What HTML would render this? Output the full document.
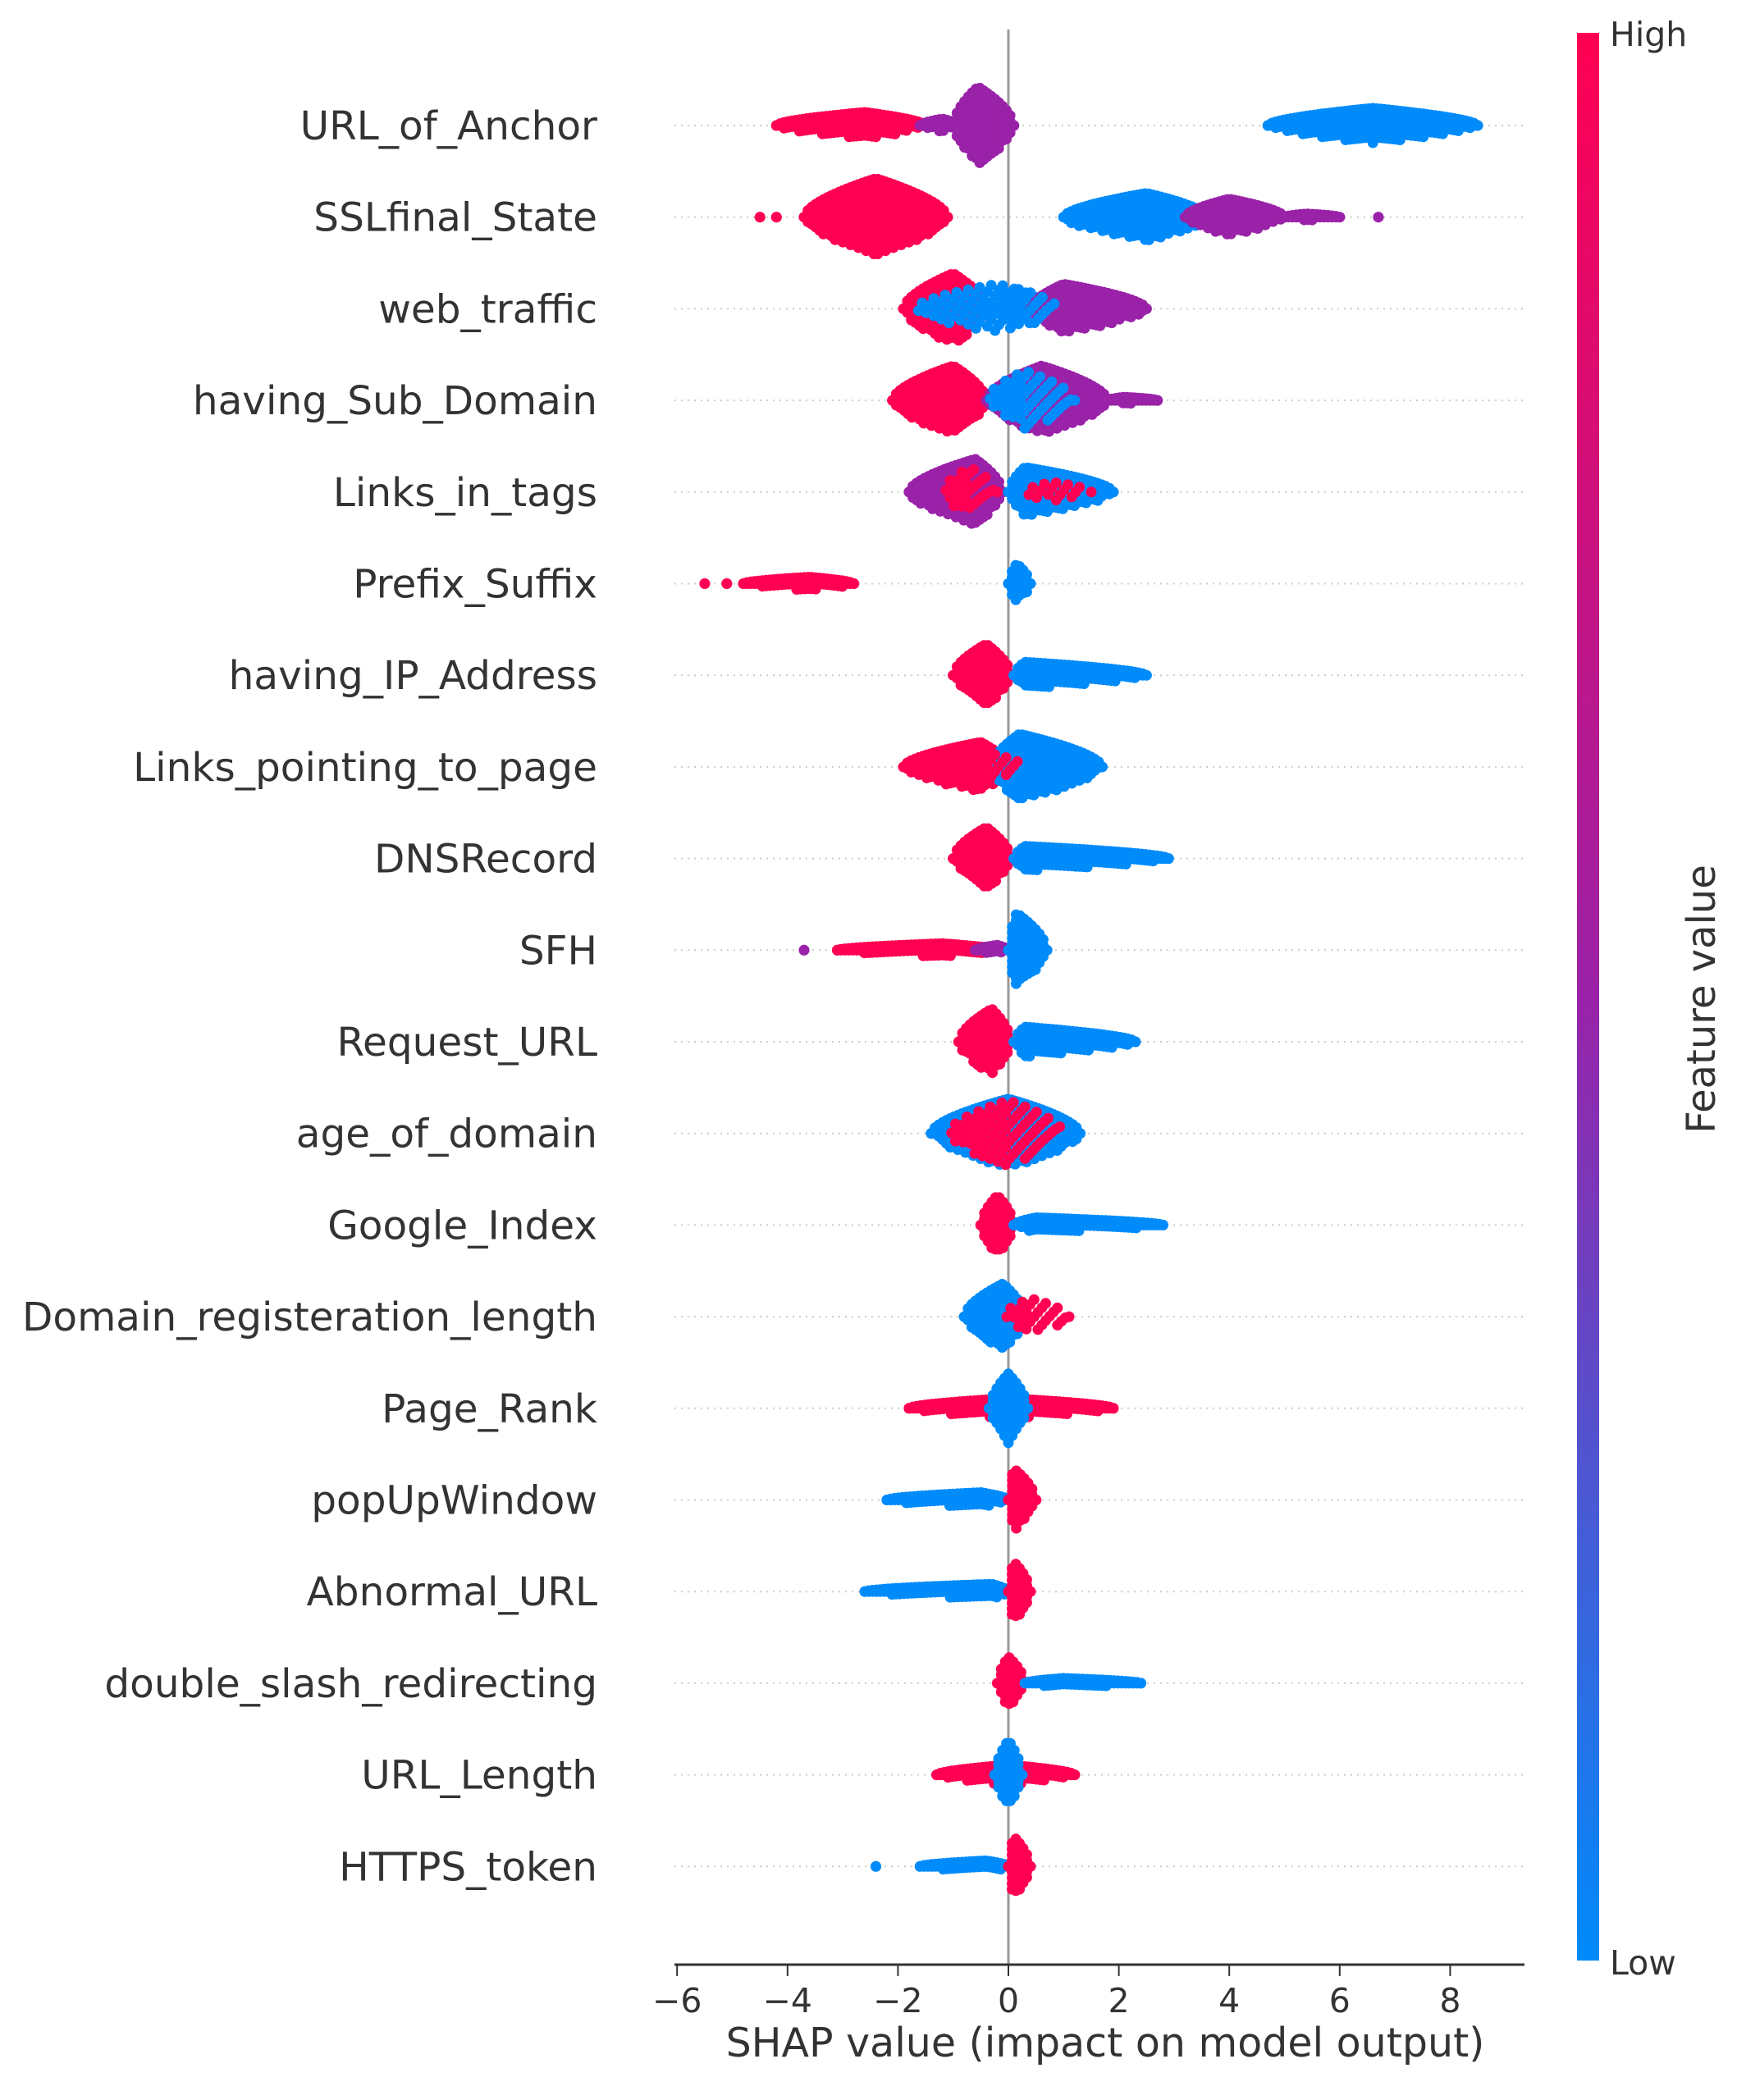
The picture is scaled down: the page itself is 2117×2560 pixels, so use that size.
<!DOCTYPE html>
<html><head><meta charset="utf-8"><style>
html,body{margin:0;padding:0;background:#fff;}
svg text{font-family:"DejaVu Sans","Liberation Sans",sans-serif;fill:#333;}
</style></head><body>
<svg id="chart" width="2117" height="2555" viewBox="0 0 2117 2555" xmlns="http://www.w3.org/2000/svg">
<defs><linearGradient id="cb" x1="0" y1="1" x2="0" y2="0">
<stop offset="0" stop-color="#008bfb"/><stop offset="0.5" stop-color="#9a22a8"/><stop offset="1" stop-color="#ff0052"/></linearGradient></defs>
<g id="grid"></g>
<g id="dots"></g>
<g id="labels"></g>
<g id="xaxis"></g>
<rect x="1922" y="40" width="27" height="2350" fill="url(#cb)"/>
<text x="1962" y="56" font-size="41">High</text>
<text x="1962" y="2407" font-size="41">Low</text>
<text transform="translate(2090,1218) rotate(-90)" text-anchor="middle" font-size="48">Feature value</text>
</svg>
<script>
const features = ["URL_of_Anchor","SSLfinal_State","web_traffic","having_Sub_Domain","Links_in_tags","Prefix_Suffix","having_IP_Address","Links_pointing_to_page","DNSRecord","SFH","Request_URL","age_of_domain","Google_Index","Domain_registeration_length","Page_Rank","popUpWindow","Abnormal_URL","double_slash_redirecting","URL_Length","HTTPS_token"];
// segments per feature: [x0, x1, peak, halfHeightPx, featureValue(0=low,1=high), sparse(0/1)]
const segments = [
 [[-4.2,-1.5,-2.6,16,1,0],[-1.6,-0.9,-1.2,8,0.5,0],[-1.0,0.1,-0.55,47,0.5,0],[4.7,8.5,6.6,21,0,0]],
 [[-4.5,-4.5,-4.5,0,1,0],[-4.2,-4.2,-4.2,0,1,0],[-3.7,-1.1,-2.4,47,1,0],[1.0,3.6,2.5,29,0,0],[3.2,5.0,4.0,22,0.5,0],[5.0,6.0,5.4,4,0.5,0],[6.7,6.7,6.7,0,0.5,0]],
 [[-1.9,-0.4,-1.0,43,1,0],[-1.7,0.8,-0.2,30,0,1],[0.4,2.5,1.0,30,0.5,0],[-0.6,0.9,0.2,24,0,1]],
 [[-2.1,-0.4,-1.0,42,1,0],[-0.4,1.8,0.6,42,0.5,0],[-0.4,1.2,0.3,36,0,1],[1.8,2.7,2.1,4,0.5,0]],
 [[-1.8,-0.1,-0.6,40,0.5,0],[-1.2,-0.2,-0.7,30,1,1],[0.0,1.9,0.3,30,0,0],[0.3,1.5,0.8,12,1,1]],
 [[-5.5,-5.5,-5.5,0,1,0],[-5.1,-5.1,-5.1,0,1,0],[-4.8,-2.8,-3.6,8,1,0],[0.0,0.4,0.15,24,0,0]],
 [[-1.0,0.05,-0.4,38,1,0],[0.1,2.5,0.3,16,0,0]],
 [[-1.9,0.0,-0.5,30,1,0],[-0.3,1.7,0.2,40,0,0],[-1.0,0.3,-0.3,16,1,1]],
 [[-1.0,0.05,-0.4,38,1,0],[0.1,2.9,0.3,15,0,0]],
 [[-3.7,-3.7,-3.7,0,0.5,0],[-3.1,-0.2,-1.2,8,1,0],[-0.6,0.0,-0.2,6,0.5,0],[0.0,0.7,0.15,45,0,0]],
 [[-0.9,0.05,-0.3,40,1,0],[0.1,2.3,0.3,18,0,0]],
 [[-1.4,1.3,0.0,42,0,0],[-1.1,1.0,0.0,40,1,1]],
 [[-0.5,0.1,-0.2,36,1,0],[0.1,2.8,0.5,9,0,0]],
 [[-0.8,0.3,-0.1,40,0,0],[-0.1,1.1,0.4,22,1,1]],
 [[-1.8,1.9,0.0,12,1,0],[-0.35,0.35,0.0,42,0,0]],
 [[-2.2,0.0,-0.5,9,0,0],[0.0,0.5,0.1,38,1,0]],
 [[-2.6,0.0,-0.3,9,0,0],[0.0,0.4,0.1,36,1,0]],
 [[-0.2,0.3,0.0,32,1,0],[0.3,2.4,1.0,6,0,0]],
 [[-1.3,1.2,0.0,12,1,0],[-0.25,0.25,0.0,42,0,0]],
 [[-2.4,-2.4,-2.4,0,0,0],[-1.6,0.0,-0.4,7,0,0],[0.0,0.4,0.1,36,1,0]]
];
const xTicks = [-6,-4,-2,0,2,4,6,8];
const xTickLabels = ["\u22126","\u22124","\u22122","0","2","4","6","8"];

const NS="http://www.w3.org/2000/svg";
const X0=1229, XU=67.3, ROW0=153, ROWH=111.7, AXY=2395;
const xs=v=>X0+v*XU;
const ys=i=>ROW0+i*ROWH;
function lerp(a,b,t){return Math.round(a+(b-a)*t);}
function color(v){
  const lo=[0,139,251],mid=[154,34,168],hi=[255,0,82];
  let a,b,t; if(v<0.5){a=lo;b=mid;t=v/0.5;}else{a=mid;b=hi;t=(v-0.5)/0.5;}
  return `rgb(${lerp(a[0],b[0],t)},${lerp(a[1],b[1],t)},${lerp(a[2],b[2],t)})`;
}
function mk(tag,attrs,parent){const e=document.createElementNS(NS,tag);for(const k in attrs)e.setAttribute(k,attrs[k]);parent.appendChild(e);return e;}
const grid=document.getElementById('grid'),dots=document.getElementById('dots'),labels=document.getElementById('labels'),xaxis=document.getElementById('xaxis');

features.forEach((f,i)=>{
  const y=ys(i);
  const gl=mk('line',{x1:822,x2:1856,y1:y,y2:y,stroke:'#ccc','stroke-width':2,'stroke-dasharray':'2,6'},grid);
  
  
  const t=mk('text',{x:728,y:y+17,'text-anchor':'end','font-size':48.5},labels);
  t.textContent=f;
  
  
});
const zl=mk('line',{x1:xs(0),x2:xs(0),y1:36,y2:AXY,stroke:'#999','stroke-width':3},grid);



segments.forEach((segs,i)=>{
  const y=ys(i);
  const g=mk('g',{},dots);
  
  
  segs.forEach(s=>{
    const [a,b,p,h,v,sp]=s, c=color(v);
    const step=0.07;
    const n=Math.max(0,Math.round((b-a)/step));
    for(let k=0;k<=n;k++){
      const xv=n?a+(b-a)*k/n:a;
      let env;
      if(xv<=p) env=(p===a)?1:(xv-a)/(p-a); else env=(b===p)?1:(b-xv)/(b-p);
      env=Math.pow(Math.max(0,env),0.6);
      const hh=h*env;
      let row=0;
      for(let dy=-hh;dy<=hh+0.01;dy+=7){
        row++;
        if(sp && ((k+row)%3)!==0) continue;
        mk('circle',{cx:xs(xv).toFixed(1),cy:(y+dy).toFixed(1),r:6.5,fill:c},g);
      }
      if(hh<3.5 && !sp){ mk('circle',{cx:xs(xv).toFixed(1),cy:y,r:6.5,fill:c},g); }
    }
  });
});

const al=mk('line',{x1:822,x2:1858,y1:AXY,y2:AXY,stroke:'#333','stroke-width':3},xaxis);


xTicks.forEach((v,j)=>{
  const tk=mk('line',{x1:xs(v),x2:xs(v),y1:AXY,y2:AXY+14,stroke:'#333','stroke-width':2},xaxis);
  
  
  const tl=mk('text',{x:xs(v),y:AXY+58,'text-anchor':'middle','font-size':41},xaxis);
  tl.textContent=xTickLabels[j];
  
  
});
const xt=mk('text',{x:1347,y:AXY+112,'text-anchor':'middle','font-size':49},xaxis);
xt.textContent="SHAP value (impact on model output)";


</script>
</body></html>
